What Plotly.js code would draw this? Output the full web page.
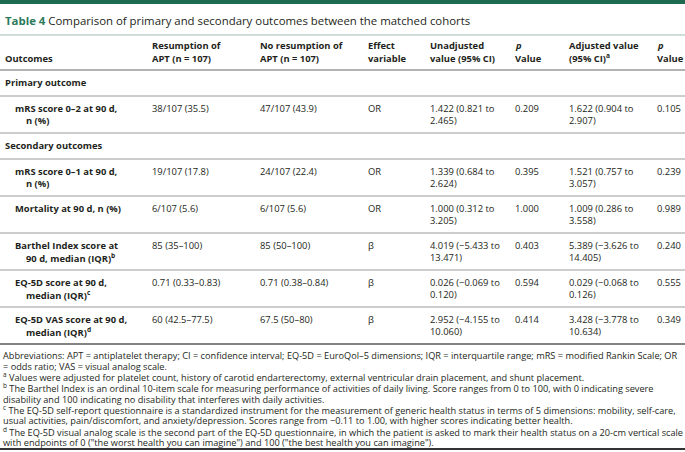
<!DOCTYPE html>
<html>
<head>
<meta charset="utf-8">
<script src="https://cdn.plot.ly/plotly-3.0.1.min.js"></script>
<style>html,body{margin:0;padding:0;background:#fff;}</style>
</head>
<body>
<div id="table4" style="width:685px;height:452px;"></div>
<script>
// table content
var headers = ['Outcomes', 'Resumption of<br>APT (n = 107)', 'No resumption of<br>APT (n = 107)', 'Effect<br>variable',
  'Unadjusted<br>value (95% CI)', '<i>p</i><br>Value', 'Adjusted value<br>(95% CI)<sup>a</sup>', '<i>p</i><br>Value'];
var sections = ['Primary outcome', 'Secondary outcomes'];
var sectionOf = [0, 1, 1, 1, 1, 1];
var outcomes = ['mRS score 0–2 at 90 d,<br>n (%)', 'mRS score 0–1 at 90 d,<br>n (%)', 'Mortality at 90 d, n (%)',
  'Barthel Index score at<br>90 d, median (IQR)<sup>b</sup>', 'EQ-5D score at 90 d,<br>median (IQR)<sup>c</sup>',
  'EQ-5D VAS score at 90 d,<br>median (IQR)<sup>d</sup>'];
var resumption = ['38/107 (35.5)', '19/107 (17.8)', '6/107 (5.6)', '85 (35–100)', '0.71 (0.33–0.83)', '60 (42.5–77.5)'];
var noResumption = ['47/107 (43.9)', '24/107 (22.4)', '6/107 (5.6)', '85 (50–100)', '0.71 (0.38–0.84)', '67.5 (50–80)'];
var effect = ['OR', 'OR', 'OR', 'β', 'β', 'β'];
var unadjusted = ['1.422 (0.821 to<br>2.465)', '1.339 (0.684 to<br>2.624)', '1.000 (0.312 to<br>3.205)',
  '4.019 (−5.433 to<br>13.471)', '0.026 (−0.069 to<br>0.120)', '2.952 (−4.155 to<br>10.060)'];
var pUnadjusted = ['0.209', '0.395', '1.000', '0.403', '0.594', '0.414'];
var adjusted = ['1.622 (0.904 to<br>2.907)', '1.521 (0.757 to<br>3.057)', '1.009 (0.286 to<br>3.558)',
  '5.389 (−3.626 to<br>14.405)', '0.029 (−0.068 to<br>0.126)', '3.428 (−3.778 to<br>10.634)'];
var pAdjusted = ['0.105', '0.239', '0.989', '0.240', '0.555', '0.349'];
var footnotes = [
  'Abbreviations: APT = antiplatelet therapy; CI = confidence interval; EQ-5D = EuroQol–5 dimensions; IQR = interquartile range; mRS = modified Rankin Scale; OR',
  '= odds ratio; VAS = visual analog scale.',
  '<sup>a</sup> Values were adjusted for platelet count, history of carotid endarterectomy, external ventricular drain placement, and shunt placement.',
  '<sup>b</sup> The Barthel Index is an ordinal 10-item scale for measuring performance of activities of daily living. Score ranges from 0 to 100, with 0 indicating severe',
  'disability and 100 indicating no disability that interferes with daily activities.',
  '<sup>c</sup> The EQ-5D self-report questionnaire is a standardized instrument for the measurement of generic health status in terms of 5 dimensions: mobility, self-care,',
  'usual activities, pain/discomfort, and anxiety/depression. Scores range from −0.11 to 1.00, with higher scores indicating better health.',
  '<sup>d</sup> The EQ-5D visual analog scale is the second part of the EQ-5D questionnaire, in which the patient is asked to mark their health status on a 20-cm vertical scale',
  'with endpoints of 0 ("the worst health you can imagine") and 100 ("the best health you can imagine").'
];
var title = '<span style="color:#2b7a5c"><b>Table 4</b></span> Comparison of primary and secondary outcomes between the matched cohorts';

// layout numbers
var W = 685, H = 452;
var colX = [3, 150, 258, 366, 428, 513, 567, 655];
var labelX = 13, hangX = 24;
var bodySize = 9.4;
var lineH = 12;
var pad = 12.5;
var sectionH = 26, rowH = 37;
var ink = '#231f20';

var annotations = [];
var shapes = [];

function txt(x, y, s, size, color) {
  annotations.push({
    x: x, y: y, xref: 'x', yref: 'y', text: s, showarrow: false,
    xanchor: 'left', yanchor: 'middle', align: 'left',
    font: {family: 'Open Sans', size: size || bodySize, color: color || ink}
  });
}
function hline(y, w, color) {
  shapes.push({type: 'line', xref: 'x', yref: 'y', x0: 0, x1: W, y0: y, y1: y,
    line: {color: color, width: w}});
}
function cell(x, y, s, bold, hang) {
  s.split('<br>').forEach(function (part, i) {
    txt(i > 0 && hang ? hang : x, y + i * lineH, bold ? '<b>' + part + '</b>' : part);
  });
}

// top bar and title
shapes.push({type: 'rect', xref: 'x', yref: 'y', x0: 0, x1: W, y0: 0, y1: 4,
  fillcolor: '#1e6b52', line: {width: 0}});
txt(3, 20, title, 11.4);
hline(35, 1, '#9fbcb1');

// header, bottom aligned
var headBottom = 58;
headers.forEach(function (h, c) {
  var parts = h.split('<br>');
  parts.forEach(function (p, i) {
    txt(colX[c], headBottom - (parts.length - 1 - i) * 12.5, '<b>' + p + '</b>');
  });
});
hline(70, 2, '#b3b3b3');

// body
var y = 70;
var lastSection = -1;
outcomes.forEach(function (o, r) {
  if (sectionOf[r] !== lastSection) {
    lastSection = sectionOf[r];
    txt(colX[0], y + pad, '<b>' + sections[lastSection] + '</b>');
    y += sectionH;
    hline(y, 1, '#9a9a9a');
  }
  var ty = y + pad;
  cell(labelX, ty, o, true, hangX);
  cell(colX[1], ty, resumption[r]);
  cell(colX[2], ty, noResumption[r]);
  cell(colX[3], ty, effect[r]);
  cell(colX[4], ty, unadjusted[r]);
  cell(colX[5], ty, pUnadjusted[r]);
  cell(colX[6], ty, adjusted[r]);
  cell(colX[7], ty, pAdjusted[r]);
  y += rowH;
  hline(y, r === outcomes.length - 1 ? 1.5 : 1, r === outcomes.length - 1 ? '#5a5a5a' : '#9a9a9a');
});

// footnotes
var fy = y + 11.5;
footnotes.forEach(function (f, i) {
  txt(0.5, fy + i * 10.9, f, 9.2);
});
hline(449, 2, '#333333');

var layout = {
  width: W, height: H,
  margin: {l: 0, r: 0, t: 0, b: 0},
  paper_bgcolor: '#ffffff', plot_bgcolor: '#ffffff',
  xaxis: {range: [0, W], visible: false, fixedrange: true},
  yaxis: {range: [H, 0], visible: false, fixedrange: true},
  showlegend: false,
  annotations: annotations,
  shapes: shapes
};

Plotly.newPlot('table4', [], layout, {staticPlot: true, displayModeBar: false});
</script>
</body>
</html>
